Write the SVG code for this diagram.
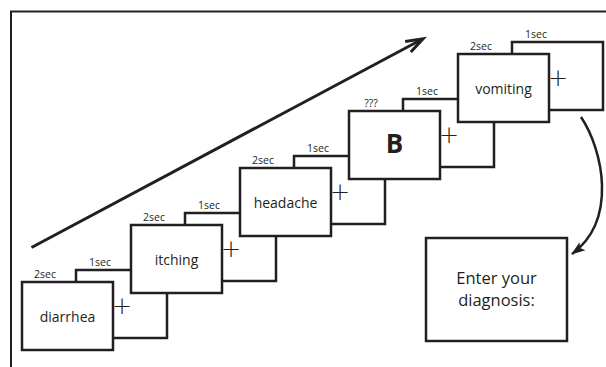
<svg xmlns="http://www.w3.org/2000/svg" width="606" height="367" viewBox="0 0 606 367">
<style>
.scr{fill:#fff;stroke:#231f20;stroke-width:2.5}
.lbl{font-family:"Open Sans","Noto Sans",sans-serif;font-size:14px;fill:#231f20;text-anchor:middle}
.dur{font-family:"Open Sans","Noto Sans",sans-serif;font-size:10.5px;fill:#231f20;text-anchor:middle}
.fix{font-family:"DejaVu Sans",sans-serif;font-weight:200;font-size:24px;fill:#231f20;text-anchor:middle}
.big{font-family:"Open Sans","Liberation Sans",sans-serif;font-weight:bold;font-size:26px;fill:#231f20;text-anchor:middle}
.diag{font-family:"Open Sans","Noto Sans",sans-serif;font-size:16.5px;fill:#231f20;text-anchor:middle}
.conn{fill:none;stroke:#231f20}
</style>
<defs>
<marker id="chev" markerUnits="userSpaceOnUse" markerWidth="24" markerHeight="18" viewBox="0 0 24 18" refX="19" refY="8" orient="auto">
<path d="M2,2 L19,8 L2,14" fill="none" stroke="#231f20" stroke-width="3" stroke-linejoin="miter"/>
</marker>
<marker id="head" markerUnits="userSpaceOnUse" markerWidth="16" markerHeight="12" viewBox="0 0 16 12" refX="13" refY="6" orient="auto">
<path d="M0,1 L14,6 L0,11 L3,6 z" fill="#231f20"/>
</marker>
</defs>
<rect width="606" height="367" fill="#fff"/>
<path d="M11,367 V11.5 H606" fill="none" stroke="#231f20" stroke-width="2"/>

<g id="fix1"><rect class="scr" x="76" y="270" width="91" height="68"/><text class="dur" x="100" y="266">1sec</text><text class="fix" x="122" y="314">+</text></g>
<g id="sym1"><rect class="scr" x="22" y="282" width="91" height="68"/><text class="dur" x="45" y="278">2sec</text><text class="lbl" x="67.5" y="321.5">diarrhea</text></g>

<g id="fix2"><rect class="scr" x="185" y="213" width="91" height="68"/><text class="dur" x="209" y="209">1sec</text><text class="fix" x="231" y="257">+</text></g>
<g id="sym2"><rect class="scr" x="131" y="225" width="91" height="68"/><text class="dur" x="154" y="221">2sec</text><text class="lbl" x="176.5" y="264.5">itching</text></g>

<g id="fix3"><rect class="scr" x="294" y="156" width="91" height="68"/><text class="dur" x="318" y="152">1sec</text><text class="fix" x="340" y="200">+</text></g>
<g id="sym3"><rect class="scr" x="240" y="168" width="91" height="68"/><text class="dur" x="263" y="164">2sec</text><text class="lbl" x="285.5" y="207.5">headache</text></g>

<g id="fix4"><rect class="scr" x="403" y="99" width="91" height="68"/><text class="dur" x="427" y="95">1sec</text><text class="fix" x="449" y="143">+</text></g>
<g id="sym4"><rect class="scr" x="349" y="111" width="91" height="68"/><text class="dur" x="371" y="107">???</text><text class="big" x="394.5" y="153">B</text></g>

<g id="fix5"><rect class="scr" x="512" y="42" width="91" height="68"/><text class="dur" x="536" y="38">1sec</text><text class="fix" x="558" y="86">+</text></g>
<g id="sym5"><rect class="scr" x="458" y="54" width="91" height="68"/><text class="dur" x="481" y="50">2sec</text><text class="lbl" x="503.5" y="94">vomiting</text></g>

<g id="diagnosis"><rect class="scr" x="426" y="238" width="141" height="103"/><text class="diag" x="496.5" y="283.5">Enter your</text><text class="diag" x="496.5" y="306">diagnosis:</text></g>

<g id="connectors">
<path class="conn" d="M31.5,247.5 L423,38.8" stroke-width="3" marker-end="url(#chev)"/>
<path class="conn" d="M581,117 C603,150 618,220 572,254" stroke-width="2.5" marker-end="url(#head)"/>
</g>
</svg>
